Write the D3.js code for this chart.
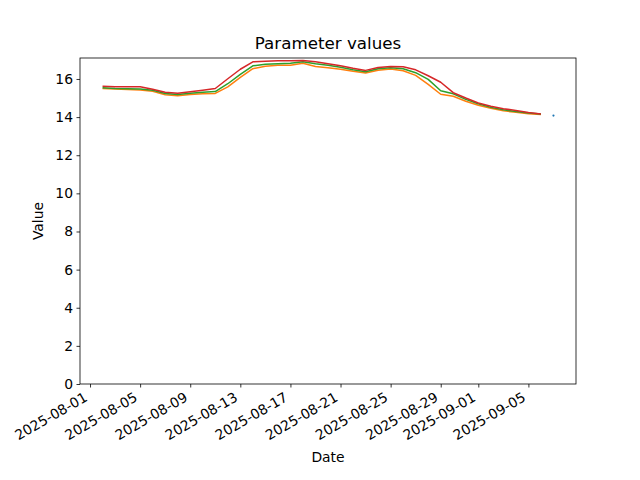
<!DOCTYPE html>
<html>
<head>
<meta charset="utf-8">
<script src="https://cdn.jsdelivr.net/npm/d3@7"></script>
<style>
  html, body { margin: 0; padding: 0; background: #fff; }
  svg { display: block; }
  text { font-family: "DejaVu Sans", sans-serif; fill: #000; }
</style>
</head>
<body>
<div id="chart"></div>
<script>
// ---------------- data ----------------
const dates = [
  "2025-08-02","2025-08-03","2025-08-04","2025-08-05","2025-08-06","2025-08-07","2025-08-08",
  "2025-08-09","2025-08-10","2025-08-11","2025-08-12","2025-08-13","2025-08-14","2025-08-15",
  "2025-08-16","2025-08-17","2025-08-18","2025-08-19","2025-08-20","2025-08-21","2025-08-22",
  "2025-08-23","2025-08-24","2025-08-25","2025-08-26","2025-08-27","2025-08-28","2025-08-29",
  "2025-08-30","2025-08-31","2025-09-01","2025-09-02","2025-09-03","2025-09-04","2025-09-05",
  "2025-09-06","2025-09-07"
];
const seriesBlue = [
  null,null,null,null,null,null,null,null,null,null,null,null,null,null,null,null,null,null,
  null,null,null,null,null,null,null,null,null,null,null,null,null,null,null,null,null,null,
  14.08
];
const seriesOrange = [
  15.50,15.47,15.45,15.42,15.35,15.17,15.12,15.18,15.22,15.24,15.59,16.08,16.54,16.67,16.72,16.72,
  16.82,16.65,16.59,16.51,16.40,16.31,16.46,16.52,16.43,16.19,15.72,15.20,15.09,14.83,14.62,14.46,
  14.33,14.25,14.18,14.14,null
];
const seriesGreen = [
  15.54,15.50,15.49,15.48,15.41,15.24,15.18,15.25,15.30,15.34,15.75,16.24,16.69,16.77,16.80,16.82,
  16.90,16.80,16.72,16.61,16.48,16.38,16.54,16.59,16.54,16.33,15.98,15.38,15.22,14.93,14.70,14.51,
  14.38,14.29,14.21,14.16,null
];
const seriesRed = [
  15.62,15.59,15.59,15.59,15.46,15.30,15.25,15.33,15.41,15.50,16.01,16.51,16.90,16.93,16.95,16.95,
  16.97,16.90,16.80,16.69,16.56,16.45,16.60,16.66,16.64,16.48,16.17,15.83,15.28,15.00,14.74,14.57,
  14.44,14.35,14.24,14.16,null
];
const xTickLabels = ["2025-08-01","2025-08-05","2025-08-09","2025-08-13","2025-08-17","2025-08-21",
  "2025-08-25","2025-08-29","2025-09-01","2025-09-05"];
const yTickValues = [0,2,4,6,8,10,12,14,16];
const titleText = "Parameter values";
const xLabelText = "Date";
const yLabelText = "Value";

// ---------------- layout ----------------
const W = 640, H = 480;
const L = 80, R = 576, T = 58, B = 384;
const parse = d3.utcParse("%Y-%m-%d");
const dateObjs = dates.map(parse);
const DAY = 86400000;

const xMin = dateObjs[0].getTime(), xMax = dateObjs[dateObjs.length - 1].getTime();
const xPad = (xMax - xMin) * 0.05;
const x = d3.scaleUtc().domain([new Date(xMin - xPad), new Date(xMax + xPad)]).range([L, R]);
const y = d3.scaleLinear().domain([0, 17.1]).range([B, T]);

const svg = d3.select("#chart").append("svg").attr("width", W).attr("height", H);
svg.append("rect").attr("width", W).attr("height", H).attr("fill", "#fff");

const colors = ["#1f77b4", "#ff7f0e", "#2ca02c", "#d62728"];
const allSeries = [seriesBlue, seriesOrange, seriesGreen, seriesRed];

const plot = svg.append("g");
const line = d3.line()
  .defined(d => d.v !== null)
  .x(d => x(d.t)).y(d => y(d.v));

allSeries.forEach((s, i) => {
  const pts = s.map((v, k) => ({ t: dateObjs[k], v: v }));
  plot.append("path").datum(pts)
    .attr("fill", "none").attr("stroke", colors[i]).attr("stroke-width", 1.5)
    .attr("stroke-linejoin", "round").attr("stroke-linecap", "butt")
    .attr("d", line);
  // isolated points (a single defined value between gaps) as tiny marks
  pts.forEach((p, k) => {
    if (p.v === null) return;
    const prev = k > 0 ? pts[k - 1].v : null;
    const next = k < pts.length - 1 ? pts[k + 1].v : null;
    if (prev === null && next === null) {
      plot.append("circle").attr("cx", x(p.t)).attr("cy", y(p.v)).attr("r", 1.1)
        .attr("fill", colors[i]);
    }
  });
});

// frame
svg.append("rect").attr("x", L).attr("y", T).attr("width", R - L).attr("height", B - T)
  .attr("fill", "none").attr("stroke", "#000").attr("stroke-width", 0.8);

// y axis
const yAxis = d3.axisLeft(y).tickValues(yTickValues).tickSize(3.5).tickPadding(3.5)
  .tickFormat(d3.format("d"));
const gy = svg.append("g").attr("transform", `translate(${L},0)`).call(yAxis);
gy.select(".domain").remove();
gy.selectAll(".tick line").attr("stroke", "#000").attr("stroke-width", 0.8);
gy.selectAll(".tick text").attr("font-size", "13.9px").attr("font-family", "DejaVu Sans, sans-serif")
  .attr("fill", "#000");

// x axis
const xTickDates = xTickLabels.map(parse);
const xAxis = d3.axisBottom(x).tickValues(xTickDates).tickSize(3.5).tickFormat("");
const gx = svg.append("g").attr("transform", `translate(0,${B})`).call(xAxis);
gx.select(".domain").remove();
gx.selectAll(".tick line").attr("stroke", "#000").attr("stroke-width", 0.8);

const fs = 13.9, asc = 0.76 * fs, desc = 0.24 * fs;
const labelTop = B + 3.5 + 3.5;
xTickDates.forEach((d, i) => {
  const tx = x(d) - desc / 2;
  const ty = labelTop + 0.866 * asc;
  svg.append("text")
    .attr("transform", `translate(${tx},${ty}) rotate(-30)`)
    .attr("text-anchor", "end")
    .attr("font-size", fs + "px")
    .text(xTickLabels[i]);
});

// title & labels
svg.append("text").attr("x", (L + R) / 2).attr("y", T - 9).attr("text-anchor", "middle")
  .attr("font-size", "16.7px").text(titleText);
svg.append("text").attr("x", (L + R) / 2).attr("y", 462).attr("text-anchor", "middle")
  .attr("font-size", fs + "px").text(xLabelText);
svg.append("text").attr("transform", `translate(43,${(T + B) / 2}) rotate(-90)`)
  .attr("text-anchor", "middle").attr("font-size", fs + "px").text(yLabelText);
</script>
</body>
</html>
